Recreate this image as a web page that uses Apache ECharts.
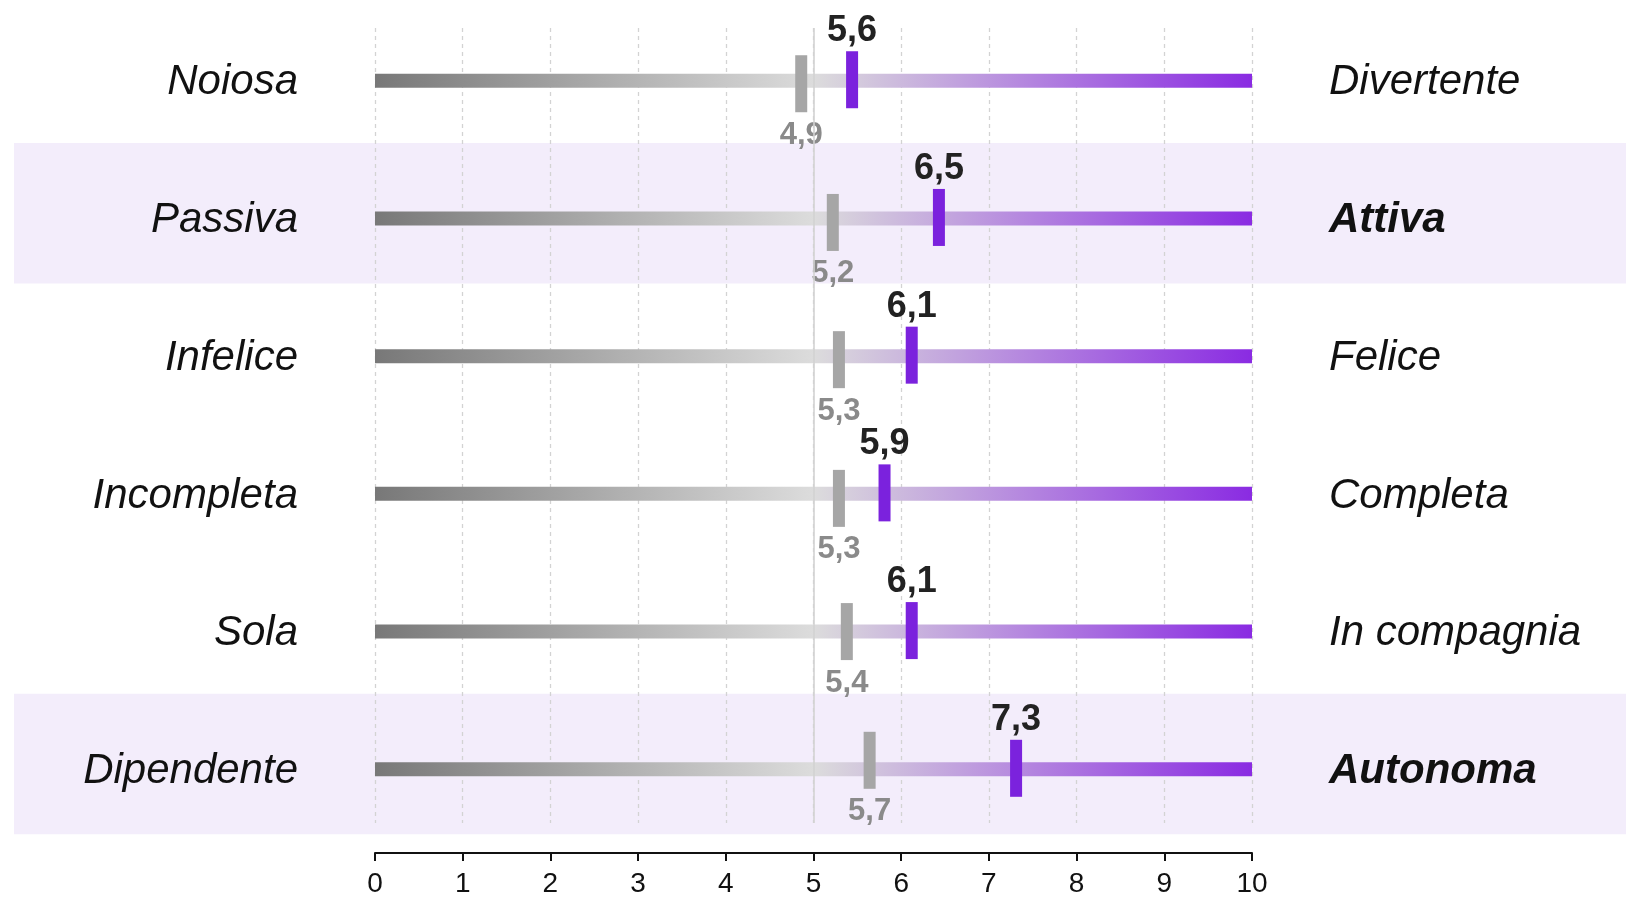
<!DOCTYPE html>
<html>
<head>
<meta charset="utf-8">
<script src="https://cdn.jsdelivr.net/npm/echarts@6/dist/echarts.min.js"></script>
<style>
  html, body { margin: 0; padding: 0; background: #fff; }
  #chart { width: 1626px; height: 898px; }
</style>
</head>
<body>
<div id="chart"></div>
<script>
// ---- data ----
const leftLabels = ['Noiosa', 'Passiva', 'Infelice', 'Incompleta', 'Sola', 'Dipendente'];
const rightLabels = ['Divertente', 'Attiva', 'Felice', 'Completa', 'In compagnia', 'Autonoma'];
const rightBold = [false, true, false, false, false, true];
const highlightedRows = [false, true, false, false, false, true];
// marker positions as drawn in the picture
const grayValues = [4.86, 5.22, 5.29, 5.29, 5.38, 5.64];
const purpleValues = [5.44, 6.43, 6.12, 5.81, 6.12, 7.31];
// value labels as printed
const grayLabels = ['4,9', '5,2', '5,3', '5,3', '5,4', '5,7'];
const purpleLabels = ['5,6', '6,5', '6,1', '5,9', '6,1', '7,3'];
const scaleMin = 0;
const scaleMax = 10;
const scaleMid = 5;
const xTicks = [0, 1, 2, 3, 4, 5, 6, 7, 8, 9, 10];

// layout: small vertical nudges of the grey markers (px), as seen in the original
const grayNudge = [3, 4, 3.5, 4.5, 0, -9];

const FONT = '"Liberation Sans", Arial, Helvetica, sans-serif';
const chart = echarts.init(document.getElementById('chart'), null, { renderer: 'canvas' });

const rowData = leftLabels.map((_, i) => [i]);

function bandItem(params, api) {
  const i = params.dataIndex;
  if (!highlightedRows[i]) return null;
  const p = api.coord([scaleMin, i]);
  return {
    type: 'rect',
    shape: { x: 14, y: p[1] - 75.5, width: api.getWidth() - 14, height: 140.5 },
    style: { fill: '#f3edfb' }
  };
}

function mainItem(params, api) {
  const i = params.dataIndex;
  const p0 = api.coord([scaleMin, i]);
  const p1 = api.coord([scaleMax, i]);
  const pg = api.coord([grayValues[i], i]);
  const pp = api.coord([purpleValues[i], i]);
  const y = p0[1];
  const th = 14;
  const mw = 12, mh = 57;
  const gy = y + grayNudge[i], py = y - 1;
  const children = [
    {
      type: 'rect',
      shape: { x: p0[0], y: y - th / 2, width: p1[0] - p0[0], height: th },
      style: {
        fill: new echarts.graphic.LinearGradient(0, 0, 1, 0, [
          { offset: 0, color: '#787878' },
          { offset: 0.5, color: '#dcdcdc' },
          { offset: 1, color: '#8a2be2' }
        ])
      }
    },
    {
      type: 'rect',
      shape: { x: pg[0] - mw / 2, y: gy - mh / 2, width: mw, height: mh },
      style: { fill: '#a6a6a6' }
    },
    {
      type: 'rect',
      shape: { x: pp[0] - mw / 2, y: py - mh / 2, width: mw, height: mh },
      style: { fill: '#7b22dd' }
    },
    {
      type: 'text',
      style: {
        text: purpleLabels[i], x: pp[0], y: py - mh / 2 - 20,
        align: 'center', verticalAlign: 'middle',
        fontFamily: FONT, fontSize: 36, fontWeight: 'bold', fill: '#222'
      }
    },
    {
      type: 'text',
      style: {
        text: grayLabels[i], x: pg[0], y: gy + mh / 2 + 23,
        align: 'center', verticalAlign: 'middle',
        fontFamily: FONT, fontSize: 31, fontWeight: 'bold', fill: '#8a8a8a'
      }
    },
    {
      type: 'text',
      style: {
        text: leftLabels[i], x: p0[0] - 77, y: y + 2,
        align: 'right', verticalAlign: 'middle',
        fontFamily: FONT, fontSize: 42, fontStyle: 'italic', fill: '#111'
      }
    },
    {
      type: 'text',
      style: {
        text: rightLabels[i], x: p1[0] + 77, y: y + 2,
        align: 'left', verticalAlign: 'middle',
        fontFamily: FONT, fontSize: 42, fontStyle: 'italic',
        fontWeight: rightBold[i] ? 'bold' : 'normal', fill: '#111'
      }
    }
  ];
  return { type: 'group', children };
}

const option = {
  animation: false,
  backgroundColor: '#ffffff',
  grid: { left: 375, right: 374, top: 28, bottom: 71 },
  xAxis: {
    type: 'value',
    position: 'bottom',
    min: scaleMin,
    max: scaleMax,
    interval: 1,
    z: 2,
    offset: 30,
    axisLine: { show: true, onZero: false, lineStyle: { color: '#111', width: 2 } },
    axisTick: { show: true, length: 8, lineStyle: { color: '#111', width: 2 } },
    axisLabel: {
      show: true, margin: 17, fontSize: 28, color: '#111', fontFamily: FONT,
      formatter: v => (xTicks.includes(v) ? String(v) : '')
    },
    splitLine: { show: true, lineStyle: { color: '#d3d3d3', width: 1.3, type: [4, 4] } }
  },
  yAxis: {
    type: 'value',
    min: -0.383,
    max: 5.39,
    inverse: true,
    show: false,
    splitLine: { show: false }
  },
  series: [
    {
      type: 'custom',
      z: 1,
      coordinateSystem: 'cartesian2d',
      renderItem: bandItem,
      data: rowData,
      silent: true
    },
    {
      type: 'line',
      z: 3,
      data: [],
      silent: true,
      markLine: {
        silent: true,
        symbol: 'none',
        label: { show: false },
        lineStyle: { color: '#d2d2d2', width: 1.6, type: 'solid' },
        data: [{ xAxis: scaleMid }]
      }
    },
    {
      type: 'custom',
      z: 4,
      coordinateSystem: 'cartesian2d',
      renderItem: mainItem,
      data: rowData,
      clip: false,
      silent: true
    }
  ]
};
chart.setOption(option);
</script>
</body>
</html>
